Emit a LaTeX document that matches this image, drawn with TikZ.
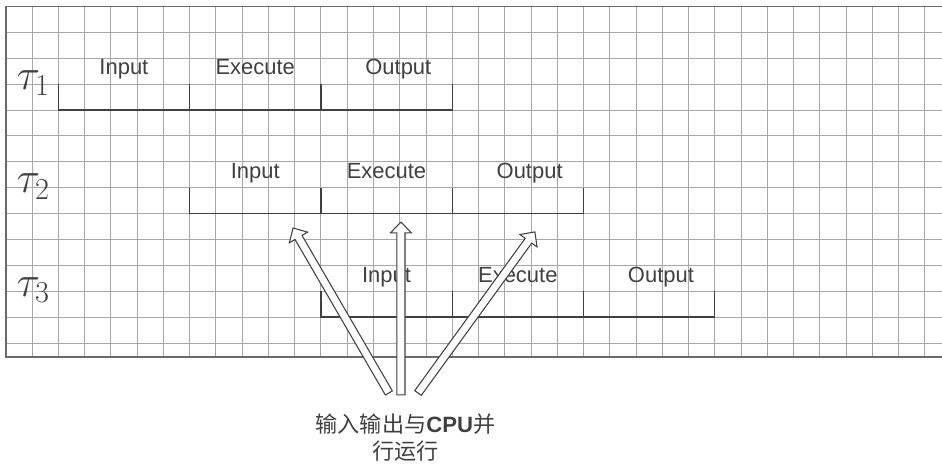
\documentclass[tikz,border=0pt]{standalone}
\usepackage[no-math]{fontspec}
\setmainfont{Liberation Sans}
\newfontfamily\cjk{Noto Sans CJK SC}
\usetikzlibrary{calc}
\definecolor{gridgray}{HTML}{A8A8A8}
\definecolor{framegray}{HTML}{6A6A6A}
\definecolor{inkgray}{HTML}{404040}
\tikzset{
  gridline/.style={draw=gridgray,line width=.45pt},
  frameline/.style={draw=framegray,line width=.9pt},
  timeline/.style={draw=inkgray,line width=.75pt},
  phase/.style={font=\fontsize{12.5}{14}\selectfont,text=inkgray,anchor=base,inner sep=0pt},
  tasklabel/.style={font=\fontsize{23}{23}\selectfont,text=inkgray,anchor=base west,inner sep=0pt},
  hollow/.style={draw=inkgray,fill=white,line width=.6pt,line join=miter},
  notetext/.style={font=\fontsize{12.6}{15.5}\selectfont,text=inkgray,align=center,inner sep=0pt},
}
% hollow arrow from #1 to #2
\newcommand{\hollowarrow}[2]{%
  \coordinate (neck) at ($(#2)!6.2pt!(#1)$);
  \draw[hollow] ($(#1)!2.3pt!90:(#2)$) -- ($(neck)!2.3pt!90:(#2)$)
    -- ($(neck)!6pt!90:(#2)$) -- (#2) -- ($(neck)!6pt!-90:(#2)$)
    -- ($(neck)!2.3pt!-90:(#2)$) -- ($(#1)!2.3pt!-90:(#2)$) -- cycle;
}

\begin{document}
\begin{tikzpicture}[x=.5252cm,y=.518cm]
  \useasboundingbox (-1.2186,-4.749) rectangle (34.653,13.243);
  
  % squared paper
  \draw[gridline,step=1] (-1,-.54) grid (34.653,13);
  \draw[frameline] (34.653,13) -- (-1,13) -- (-1,-.54) -- (34.653,-.54);
  
  % one timeline per task
  \foreach \k in {1,2,3}{
    \pgfmathsetmacro\yb{13-4*\k}
    \pgfmathsetmacro\xs{5*\k-4}
    \draw[timeline] (\xs,\yb+1) -- (\xs,\yb) -- (\xs+15,\yb) -- (\xs+15,\yb+1);
    \draw[timeline] (\xs+5,\yb) -- (\xs+5,\yb+1) (\xs+10,\yb) -- (\xs+10,\yb+1);
    \node[tasklabel] (tau\k) at (-.6,\yb+.8) {$\tau_{\k}$};
    \node[phase] (in\k) at (\xs+2.5,\yb+1.35) {Input};
    \node[phase] (ex\k) at (\xs+7.5,\yb+1.35) {Execute};
    \node[phase] (out\k) at (\xs+12.95,\yb+1.35) {Output};
  }
  
  \node[notetext] (note) at (14.22,-3.65)
  {{\cjk 输入输出与}\textbf{CPU}{\cjk 并}\\{\cjk 行运行}};
  
  \coordinate (srcL) at (13.59,-1.93);
  \coordinate (srcM) at (14.05,-2.0);
  \coordinate (srcR) at (14.70,-1.93);
  \coordinate (dstL) at (9.94,4.44);
  \coordinate (dstM) at (14.05,4.67);
  \coordinate (dstR) at (19.15,4.29);
  
  \hollowarrow{srcL}{dstL}
  \hollowarrow{srcM}{dstM}
  \hollowarrow{srcR}{dstR}
\end{tikzpicture}
\end{document}
